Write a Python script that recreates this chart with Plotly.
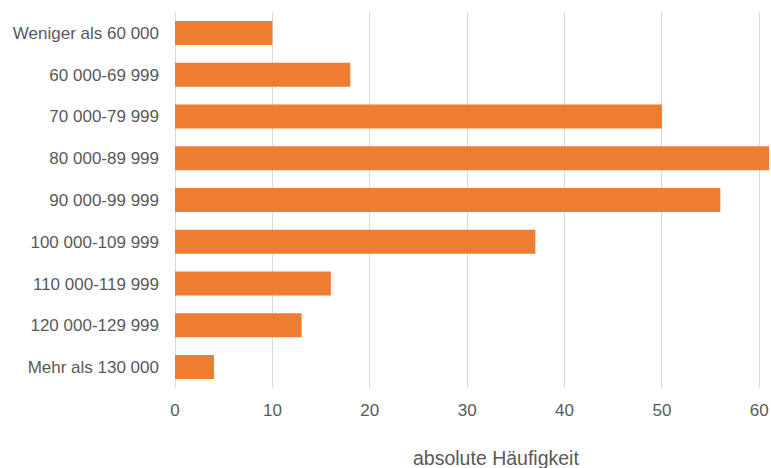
import plotly.graph_objects as go

categories = ["Weniger als 60 000", "60 000-69 999", "70 000-79 999", "80 000-89 999",
              "90 000-99 999", "100 000-109 999", "110 000-119 999", "120 000-129 999",
              "Mehr als 130 000"]
values = [10, 18, 50, 61, 56, 37, 16, 13, 4]
x_ticks = [0, 10, 20, 30, 40, 50, 60]
x_title = "absolute Häufigkeit"

fig = go.Figure(go.Bar(
    y=categories, x=values, orientation="h",
    marker=dict(color="#ED7D31", line=dict(width=0)),
))

font = dict(family="Liberation Sans, Arial, sans-serif", size=17, color="#595959")
title_font = dict(family="Liberation Sans, Arial, sans-serif", size=19.5, color="#595959")

fig.update_layout(
    width=771, height=468,
    margin=dict(l=175, r=0, t=12, b=80),
    paper_bgcolor="white", plot_bgcolor="white",
    bargap=0.425,
    font=font,
    showlegend=False,
    xaxis=dict(range=[0, 61.2], tickvals=x_ticks, showgrid=True, gridcolor="#D9D9D9",
               gridwidth=1, zeroline=True, zerolinecolor="#D9D9D9", zerolinewidth=1,
               showline=False, ticks="", ticklabelstandoff=10, tickfont=font),
    yaxis=dict(autorange="reversed", showgrid=False, zeroline=False, showline=False,
               ticks="", ticklabelstandoff=15, tickfont=font),
    annotations=[dict(text=x_title, xref="paper", yref="paper",
                      x=(496 - 175) / 596, y=-(458 - 388) / 376,
                      xanchor="center", yanchor="middle", showarrow=False, font=title_font)],
)

fig.write_html("out.html")
